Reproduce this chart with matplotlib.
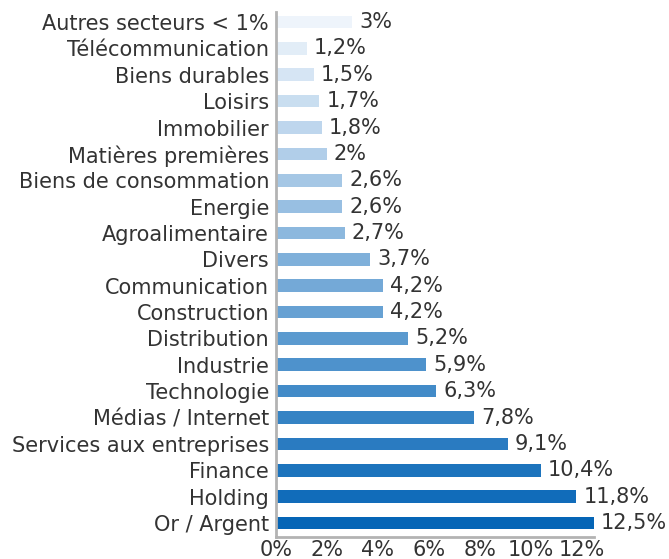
import matplotlib.pyplot as plt
import matplotlib.colors as mcolors
import numpy as np

# sector weights in %, from largest to smallest
sectors = ["Or / Argent", "Holding", "Finance", "Services aux entreprises",
           "Médias / Internet", "Technologie", "Industrie", "Distribution",
           "Construction", "Communication", "Divers", "Agroalimentaire",
           "Energie", "Biens de consommation", "Matières premières",
           "Immobilier", "Loisirs", "Biens durables", "Télécommunication",
           "Autres secteurs < 1%"]
weights = [12.5, 11.8, 10.4, 9.1, 7.8, 6.3, 5.9, 5.2, 4.2, 4.2, 3.7, 2.7,
           2.6, 2.6, 2.0, 1.8, 1.7, 1.5, 1.2, 3.0]
ticks = [0, 2, 4, 6, 8, 10, 12]

plt.rcParams['font.family'] = 'DejaVu Sans'
plt.rcParams['font.size'] = 15

fig = plt.figure(figsize=(6.69, 5.59), dpi=100)
ax = fig.add_axes([0.4126, 0.0394, 0.4754, 0.9391])

# blue gradient, dark at the bottom to pale at the top
cmap = mcolors.LinearSegmentedColormap.from_list("bl", ["#0565b6", "#eef4fb"])
colors = [cmap(i / (len(sectors) - 1)) for i in range(len(sectors))]

y = np.arange(len(sectors))
ax.barh(y, weights, height=0.48, color=colors)

for yi, w in zip(y, weights):
    txt = f"{w:g}".replace(".", ",") + "%"
    ax.annotate(txt, (w, yi), xytext=(5, 0), textcoords="offset points",
                va="center", ha="left", color="#333333", fontsize=15,
                annotation_clip=False)

ax.set_yticks(y)
ax.set_yticklabels(sectors, color="#333333")
ax.set_xticks(ticks)
ax.set_xticklabels([f"{t}%" for t in ticks], color="#333333")
ax.set_xlim(0, 12.5)
ax.set_ylim(-0.53, 19.38)
ax.tick_params(axis="y", length=0, pad=5)
ax.tick_params(axis="x", length=0, pad=2)

for s in ["top", "right"]:
    ax.spines[s].set_visible(False)
for s in ["left", "bottom"]:
    ax.spines[s].set_color("#b3b3b3")
    ax.spines[s].set_linewidth(2)

fig.savefig("out.png", dpi=100)
